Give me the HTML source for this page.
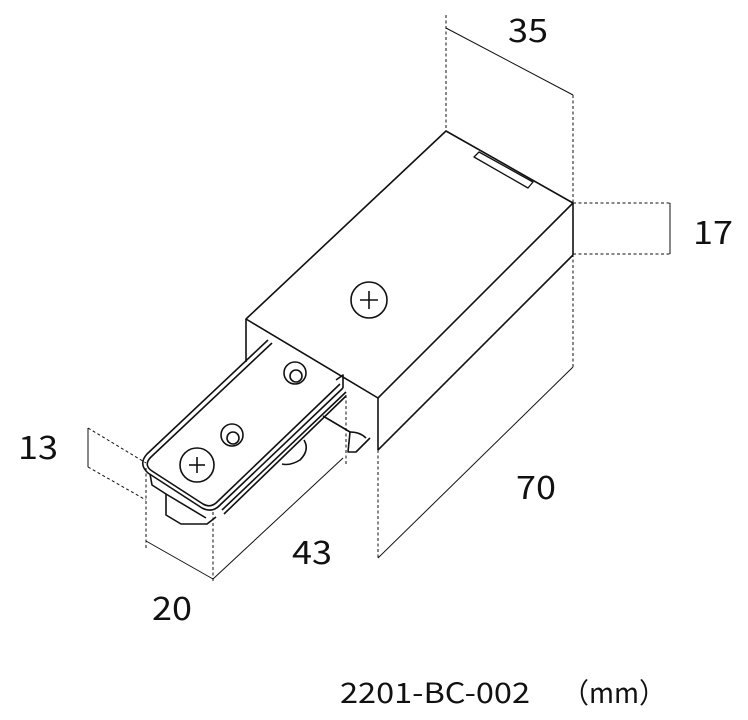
<!DOCTYPE html>
<html><head><meta charset="utf-8"><style>
html,body{margin:0;padding:0;background:#fff;}
svg{display:block}
text{font-family:"Noto Sans CJK JP","Liberation Sans",sans-serif;fill:#111}
</style></head><body>
<svg width="748" height="720" viewBox="0 0 748 720" xmlns="http://www.w3.org/2000/svg">
<g fill="none" stroke="#111" stroke-width="1" stroke-dasharray="3,2.5">
<line x1="446" y1="15" x2="446" y2="131"/>
<line x1="573" y1="95" x2="573" y2="203"/>
<line x1="573" y1="203" x2="670" y2="203"/>
<line x1="573" y1="254" x2="670" y2="254"/>
<line x1="573" y1="254" x2="573" y2="367"/>
<line x1="378" y1="450" x2="378" y2="560"/>
<line x1="88" y1="428" x2="146" y2="463"/>
<line x1="88" y1="467" x2="146" y2="500"/>
<line x1="146" y1="468" x2="146" y2="548"/>
<line x1="213" y1="512" x2="213" y2="583"/>
<line x1="346" y1="395" x2="346" y2="465"/>
</g>
<g fill="none" stroke="#111" stroke-width="1">
<line x1="446" y1="28" x2="573" y2="95"/>
<line x1="670" y1="203" x2="670" y2="254"/>
<line x1="378" y1="558" x2="573" y2="367"/>
<line x1="88" y1="428" x2="88" y2="467"/>
<line x1="146" y1="541" x2="213" y2="579"/>
<line x1="213" y1="579" x2="343" y2="458"/>
</g>
<g fill="none" stroke="#111" stroke-width="1.6" stroke-linejoin="round">
<polygon points="446,131 573,203 378,398 246,319"/>
<line x1="573" y1="203" x2="573" y2="255"/>
<line x1="573" y1="255" x2="378" y2="450"/>
<line x1="378" y1="398" x2="378" y2="450"/>
<line x1="246" y1="319" x2="246" y2="362"/>
<polygon points="474,157 528,188 533,182 479,152" stroke-width="1.3"/>
<circle cx="369" cy="300" r="18"/>
<line x1="360" y1="300" x2="378" y2="300"/>
<line x1="369" y1="291" x2="369" y2="309"/>
<path d="M272,343 L151,457 Q143,465 152,471 L203,504 Q210,508 216,503 L340,384"/>
<path d="M268,340 L147,454 Q138,464 148,473 L202,508 Q212,513 219,506 L343,388"/>
<path d="M222,510 L346,392"/>
<path d="M224,514 L346,396"/>
<path d="M336,380 L343,375 L343,388"/>
<path d="M150,474 L152,485 L166,494 L166,515 L181,524 L207,524 L216,517"/>
<path d="M166,494 L206,518"/>
<path d="M323,416 L350,432 Q349,442 348,452 L356,452 Q366,442 370,438"/>
<path d="M350,432 Q360,432 366,438"/>
<path d="M304,440 Q310,450 300,460 Q290,466 282,464"/>
<circle cx="295" cy="373" r="11"/>
<circle cx="296" cy="376" r="6"/>
<circle cx="232" cy="435" r="11"/>
<circle cx="233" cy="438" r="6"/>
<circle cx="197" cy="465" r="17"/>
<line x1="189" y1="465" x2="205" y2="465"/>
<line x1="197" y1="457" x2="197" y2="473"/>
</g>
<g font-size="32" lengthAdjust="spacingAndGlyphs">
<text x="508" y="42" textLength="40" lengthAdjust="spacingAndGlyphs">35</text>
<text x="693" y="244" textLength="40" lengthAdjust="spacingAndGlyphs">17</text>
<text x="516" y="499" textLength="40" lengthAdjust="spacingAndGlyphs">70</text>
<text x="18" y="459" textLength="40" lengthAdjust="spacingAndGlyphs">13</text>
<text x="292" y="564" textLength="40" lengthAdjust="spacingAndGlyphs">43</text>
<text x="152" y="620" textLength="40" lengthAdjust="spacingAndGlyphs">20</text>
</g>
<text x="340" y="703" font-size="28" textLength="190" lengthAdjust="spacingAndGlyphs">2201-BC-002</text>
<text x="562" y="703" font-size="28" textLength="104" lengthAdjust="spacingAndGlyphs">（mm）</text>
</svg>
</body></html>
